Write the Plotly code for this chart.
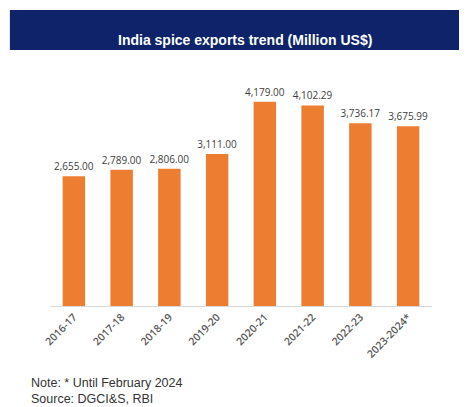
import plotly.graph_objects as go

years = ["2016-17", "2017-18", "2018-19", "2019-20", "2020-21", "2021-22", "2022-23", "2023-2024*"]
exports = [2655.00, 2789.00, 2806.00, 3111.00, 4179.00, 4102.29, 3736.17, 3675.99]
labels = [f"{v:,.2f}" for v in exports]

fig = go.Figure(go.Bar(
    x=years, y=exports, text=labels, textposition="outside",
    constraintext="none",
    marker=dict(color="#ED7D31", line=dict(width=0)),
    textfont=dict(family="Open Sans, Liberation Sans", size=10, color="#404040"),
    cliponaxis=False, width=0.47,
))

fig.update_layout(
    width=459, height=399,
    margin=dict(l=42, r=35, t=78, b=101, autoexpand=False),
    paper_bgcolor="white", plot_bgcolor="white",
    showlegend=False,
    xaxis=dict(tickangle=-45, showline=True, linecolor="#D9D9D9", linewidth=1,
               automargin=False,
               tickfont=dict(family="Open Sans, Liberation Sans", size=10.5, color="#595959", weight=600),
               ticks="", range=[-0.5, 7.5]),
    yaxis=dict(visible=False, range=[0, 4500], automargin=False),
    shapes=[dict(type="rect", xref="paper", yref="paper", x0=-0.105, x1=1.095,
                 y0=1.1636, y1=1.345, fillcolor="#0E2369", line=dict(width=0), layer="below")],
    annotations=[
        dict(text="<b>India spice exports trend (Million US$)</b>", xref="paper", yref="paper",
             x=0.51, y=1.2545, showarrow=False,
             font=dict(family="Liberation Sans, Arial", size=14, color="white")),
        dict(text="Note: * Until February 2024<br>Source: DGCI&S, RBI", xref="paper", yref="paper",
             x=-0.055, y=-0.31, xanchor="left", yanchor="top", align="left", showarrow=False,
             font=dict(family="Liberation Sans, Arial", size=12.5, color="#333333")),
    ],
)

fig.write_html("out.html")
